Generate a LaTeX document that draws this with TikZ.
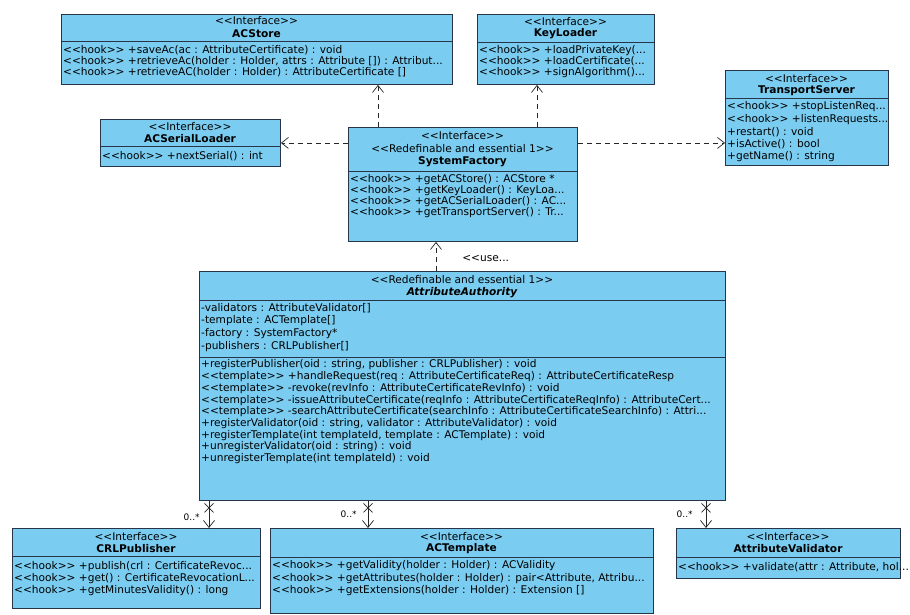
\documentclass[tikz,border=0pt]{standalone}
\usepackage{fontspec}
\setmainfont{DejaVu Sans}[Ligatures=TeXOff]
\usetikzlibrary{arrows.meta,decorations.markings}
\definecolor{classfill}{RGB}{122,204,241}
\definecolor{classline}{RGB}{40,52,72}
\newcommand{\memberfont}{\fontsize{10.6}{12}\selectfont}
\newcommand{\trunc}{...}
\tikzset{
  classbox/.style={draw=classline, fill=classfill, line width=0.9pt, anchor=north west, inner sep=0pt},
  member/.style={anchor=west, inner sep=0pt, font=\memberfont},
  stereo/.style={anchor=center, inner sep=0pt, font=\memberfont},
  classname/.style={anchor=center, inner sep=0pt, font=\memberfont\bfseries},
  sepline/.style={draw=classline, line width=0.8pt},
  dep/.style={draw=black!85, line width=0.7pt, dash pattern=on 5pt off 4pt, -{Straight Barb[length=7pt,width=11pt]}},
  assoc/.style={draw=black!85, line width=0.7pt, -{Straight Barb[length=7pt,width=11pt]},
    postaction={decorate}, decoration={markings, mark=at position 7pt with
      {\draw[solid,-] (-4.5pt,-4.5pt) -- (4.5pt,4.5pt) (-4.5pt,4.5pt) -- (4.5pt,-4.5pt);}}},
  mult/.style={anchor=east, inner sep=0pt, font=\fontsize{9}{10}\selectfont}
}
\begin{document}
\begin{tikzpicture}[x=1pt,y=-1pt]
        \useasboundingbox (0,0) rectangle (910,615);

        % top row
        \node[classbox, minimum width=391pt, minimum height=70pt] (acstore) at (61,14) {};
        \node[stereo] (acstore-st) at (256.5,21) {<<Interface>>};
        \node[classname] (acstore-name) at (256.5,33.5) {ACStore};
        \draw[sepline] (61,41) -- (452,41);
        \foreach \t [count=\i from 0] in {{<<hook>> +saveAc(ac : AttributeCertificate) : void},
            {<<hook>> +retrieveAc(holder : Holder, attrs : Attribute []) : Attribut\trunc},
            {<<hook>> +retrieveAC(holder : Holder) : AttributeCertificate []}}
            {\node[member] (acstore-m\i) at (63,{50.5+11*\i}) {\t};}

        \node[classbox, minimum width=177pt, minimum height=70pt] (keyloader) at (477,14) {};
        \node[stereo] (keyloader-st) at (565.5,21.5) {<<Interface>>};
        \node[classname] (keyloader-name) at (565.5,34) {KeyLoader};
        \draw[sepline] (477,42) -- (654,42);
        \foreach \t [count=\i from 0] in {{<<hook>> +loadPrivateKey(\trunc},
            {<<hook>> +loadCertificate(\trunc}, {<<hook>> +signAlgorithm()\trunc}}
            {\node[member] (keyloader-m\i) at (479,{50.5+11*\i}) {\t};}

        \node[classbox, minimum width=163pt, minimum height=95pt] (transport) at (725,70) {};
        \node[stereo] (transport-st) at (806.5,79) {<<Interface>>};
        \node[classname] (transport-name) at (806.5,91) {TransportServer};
        \draw[sepline] (725,98.5) -- (888,98.5);
        \foreach \t [count=\i from 0] in {{<<hook>> +stopListenReq\trunc}, {<<hook>> +listenRequests\trunc},
            {+restart() : void}, {+isActive() : bool}, {+getName() : string}}
            {\node[member] (transport-m\i) at (727,{107+12.5*\i}) {\t};}

        % middle row
        \node[classbox, minimum width=180pt, minimum height=47pt] (serial) at (100,119) {};
        \node[stereo] (serial-st) at (190,126.5) {<<Interface>>};
        \node[classname] (serial-name) at (190,139) {ACSerialLoader};
        \draw[sepline] (100,146) -- (280,146);
        \node[member] (serial-m0) at (102,156) {<<hook>> +nextSerial() : int};

        \node[classbox, minimum width=229pt, minimum height=114pt] (factory) at (348,127) {};
        \node[stereo] (factory-st) at (462.5,136) {<<Interface>>};
        \node[stereo] (factory-st2) at (462.5,148.5) {<<Redefinable and essential 1>>};
        \node[classname] (factory-name) at (462.5,162) {SystemFactory};
        \draw[sepline] (348,171) -- (577,171);
        \foreach \t [count=\i from 0] in {{<<hook>> +getACStore() : ACStore *},
            {<<hook>> +getKeyLoader() : KeyLoa\trunc}, {<<hook>> +getACSerialLoader() : AC\trunc},
            {<<hook>> +getTransportServer() : Tr\trunc}}
            {\node[member] (factory-m\i) at (350,{180+10.7*\i}) {\t};}

        \node[classbox, minimum width=526pt, minimum height=229pt] (authority) at (199,271) {};
        \node[stereo] (authority-st) at (462,280) {<<Redefinable and essential 1>>};
        \node[classname, font=\memberfont\bfseries\itshape] (authority-name) at (462,292.5) {AttributeAuthority};
        \draw[sepline] (199,300) -- (725,300);
        \foreach \t [count=\i from 0] in {{-validators : AttributeValidator[]}, {-template : ACTemplate[]},
            {-factory : SystemFactory*}, {-publishers : CRLPublisher[]}}
            {\node[member] (authority-a\i) at (201,{308+12.8*\i}) {\t};}
        \draw[sepline] (199,357) -- (725,357);
        \foreach \t [count=\i from 0] in {{+registerPublisher(oid : string, publisher : CRLPublisher) : void},
            {<<template>> +handleRequest(req : AttributeCertificateReq) : AttributeCertificateResp},
            {<<template>> -revoke(revInfo : AttributeCertificateRevInfo) : void},
            {<<template>> -issueAttributeCertificate(reqInfo : AttributeCertificateReqInfo) : AttributeCert\trunc},
            {<<template>> -searchAttributeCertificate(searchInfo : AttributeCertificateSearchInfo) : Attri\trunc},
            {+registerValidator(oid : string, validator : AttributeValidator) : void},
            {+registerTemplate(int templateId, template : ACTemplate) : void},
            {+unregisterValidator(oid : string) : void},
            {+unregisterTemplate(int templateId) : void}}
            {\node[member] (authority-m\i) at (201,{365+11.7*\i}) {\t};}

        % bottom row
        \node[classbox, minimum width=248pt, minimum height=80pt] (crl) at (12,528) {};
        \node[stereo] (crl-st) at (136,536.5) {<<Interface>>};
        \node[classname] (crl-name) at (136,548.5) {CRLPublisher};
        \draw[sepline] (12,556) -- (260,556);
        \foreach \t [count=\i from 0] in {{<<hook>> +publish(crl : CertificateRevoc\trunc},
            {<<hook>> +get() : CertificateRevocationL\trunc}, {<<hook>> +getMinutesValidity() : long}}
            {\node[member] (crl-m\i) at (14,{567+12*\i}) {\t};}

        \node[classbox, minimum width=383pt, minimum height=85pt] (template) at (270,528) {};
        \node[stereo] (template-st) at (461.5,536.5) {<<Interface>>};
        \node[classname] (template-name) at (461.5,548.5) {ACTemplate};
        \draw[sepline] (270,557) -- (653,557);
        \foreach \t [count=\i from 0] in {{<<hook>> +getValidity(holder : Holder) : ACValidity},
            {<<hook>> +getAttributes(holder : Holder) : pair<Attribute, Attribu\trunc},
            {<<hook>> +getExtensions(holder : Holder) : Extension []}}
            {\node[member] (template-m\i) at (272,{566+12.5*\i}) {\t};}

        \node[classbox, minimum width=224pt, minimum height=50pt] (validator) at (676,528) {};
        \node[stereo] (validator-st) at (788,536.5) {<<Interface>>};
        \node[classname] (validator-name) at (788,549) {AttributeValidator};
        \draw[sepline] (676,557) -- (900,557);
        \node[member] (validator-m0) at (678,567) {<<hook>> +validate(attr : Attribute, hol\trunc};

        % dependencies
        \coordinate (to-acstore) at (378,127);
        \coordinate (to-keyloader) at (537,127);
        \coordinate (to-factory) at (436,271);
        \draw[dep] (to-acstore) -- (to-acstore |- acstore.south);
        \draw[dep] (to-keyloader) -- (to-keyloader |- keyloader.south);
        \draw[dep] (factory.west |- serial.east) -- (serial.east);
        \draw[dep] (factory.east |- serial.east) -- (transport.west |- serial.east);
        \draw[dep] (to-factory) -- (to-factory |- factory.south)
            node[member, pos=0.43, xshift=26pt] (use-label) {<<use\trunc};

        % associations
        \coordinate (to-crl) at (209,528);
        \coordinate (to-template) at (368,528);
        \coordinate (to-validator) at (706,528);
        \draw[assoc] (to-crl |- authority.south) -- (to-crl)
            node[mult, pos=0.62, xshift=-9pt] (crl-mult) {0..*};
        \draw[assoc] (to-template |- authority.south) -- (to-template)
            node[mult, pos=0.48, xshift=-11pt] (template-mult) {0..*};
        \draw[assoc] (to-validator |- authority.south) -- (to-validator)
            node[mult, pos=0.5, xshift=-13pt] (validator-mult) {0..*};
    \end{tikzpicture}
\end{document}
